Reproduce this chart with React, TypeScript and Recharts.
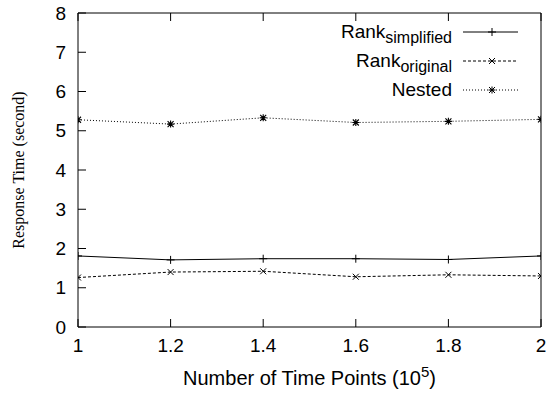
import React from 'react';
import { LineChart, Line, XAxis, YAxis, Label } from 'recharts';

const timePoints = [1, 1.2, 1.4, 1.6, 1.8, 2];
const rankSimplified = [1.81, 1.71, 1.74, 1.74, 1.72, 1.81];
const rankOriginal = [1.26, 1.4, 1.42, 1.28, 1.33, 1.3];
const nested = [5.28, 5.17, 5.33, 5.21, 5.24, 5.29];
const xTicks = [1, 1.2, 1.4, 1.6, 1.8, 2];
const yTicks = [0, 1, 2, 3, 4, 5, 6, 7, 8];

const data = timePoints.map((t, i) => ({
  t,
  simplified: rankSimplified[i],
  original: rankOriginal[i],
  nested: nested[i],
}));

const SANS = 'Liberation Sans, Arial, Helvetica, sans-serif';
const SERIF = 'Liberation Serif, Times New Roman, serif';

const plusPath = (cx: number, cy: number, r: number) =>
  `M${cx - r},${cy}H${cx + r}M${cx},${cy - r}V${cy + r}`;
const crossPath = (cx: number, cy: number, r: number) =>
  `M${cx - r},${cy - r}L${cx + r},${cy + r}M${cx - r},${cy + r}L${cx + r},${cy - r}`;

const PlusDot = (p: any) =>
  p.cx == null ? null : (
    <path key={p.key ?? `p${p.index}`} d={plusPath(p.cx, p.cy, 4)} stroke="#000" strokeWidth={1} fill="none" />
  );
const CrossDot = (p: any) =>
  p.cx == null ? null : (
    <path key={p.key ?? `c${p.index}`} d={crossPath(p.cx, p.cy, 3)} stroke="#000" strokeWidth={1} fill="none" />
  );
const StarDot = (p: any) =>
  p.cx == null ? null : (
    <path
      key={p.key ?? `s${p.index}`}
      d={plusPath(p.cx, p.cy, 3.5) + crossPath(p.cx, p.cy, 3)}
      stroke="#000"
      strokeWidth={1.1}
      fill="none"
    />
  );

const YTitle = (props: any) => {
  const vb = props.viewBox || {};
  const cy = vb.y + vb.height / 2;
  const x = 18;
  return (
    <text
      x={x}
      y={cy}
      transform={`rotate(-90, ${x}, ${cy})`}
      textAnchor="middle"
      dominantBaseline="central"
      fontFamily={SERIF}
      fontSize={16}
      fill="#000"
    >
      Response Time (second)
    </text>
  );
};

const XTitle = (props: any) => {
  const vb = props.viewBox || {};
  const cx = vb.x + vb.width / 2;
  return (
    <text x={cx} y={385} textAnchor="middle" fontFamily={SANS} fontSize={20} fill="#000">
      Number of Time Points (10
      <tspan dy={-8} fontSize={15}>5</tspan>
      <tspan dy={8}>)</tspan>
    </text>
  );
};

const legendItems = [
  { main: 'Rank', sub: 'simplified', dash: undefined as string | undefined, dot: 'plus' },
  { main: 'Rank', sub: 'original', dash: '3 2', dot: 'cross' },
  { main: 'Nested', sub: '', dash: '1 2', dot: 'star' },
];

const LegendOverlay = () => (
  <svg
    width={550}
    height={394}
    style={{ position: 'absolute', left: 0, top: 0, pointerEvents: 'none' }}
  >
    {legendItems.map((it, i) => {
      const ly = 32 + i * 29;
      const mx = 492;
      let marker = '';
      if (it.dot === 'plus') marker = plusPath(mx, ly, 4);
      else if (it.dot === 'cross') marker = crossPath(mx, ly, 3);
      else marker = plusPath(mx, ly, 3.5) + crossPath(mx, ly, 3);
      return (
        <g key={i}>
          <text x={452} y={ly + 6} textAnchor="end" fontFamily={SANS} fontSize={19} fill="#000">
            {it.main}
            {it.sub ? (
              <tspan dy={5} fontSize={16}>
                {it.sub}
              </tspan>
            ) : null}
          </text>
          <line x1={463} x2={518} y1={ly} y2={ly} stroke="#000" strokeWidth={1} strokeDasharray={it.dash} />
          <path d={marker} stroke="#000" strokeWidth={1} fill="none" />
        </g>
      );
    })}
  </svg>
);

export default function App() {
  return (
    <div style={{ position: 'absolute', left: 0, top: 0, width: 550, height: 394, background: '#fff' }}>
      <LineChart
        width={550}
        height={394}
        data={data}
        margin={{ top: 12, right: 8, bottom: 37, left: 38 }}
      >
        <XAxis
          xAxisId="b"
          dataKey="t"
          type="number"
          domain={[1, 2]}
          ticks={xTicks}
          height={30}
          tickSize={-8}
          tickMargin={20}
          stroke="#000"
          tick={{ fill: '#000', fontFamily: SANS, fontSize: 19 }}
          interval={0}
          allowDataOverflow
        >
          <Label content={<XTitle />} />
        </XAxis>
        <XAxis
          xAxisId="t"
          orientation="top"
          dataKey="t"
          type="number"
          domain={[1, 2]}
          ticks={xTicks}
          height={1}
          tickSize={-8}
          tickFormatter={() => ''}
          stroke="#000"
          interval={0}
        />
        <YAxis
          yAxisId="l"
          type="number"
          domain={[0, 8]}
          ticks={yTicks}
          width={40}
          tickSize={-8}
          tickMargin={20}
          stroke="#000"
          tick={{ fill: '#000', fontFamily: SANS, fontSize: 19 }}
          interval={0}
        >
          <Label content={<YTitle />} />
        </YAxis>
        <YAxis
          yAxisId="r"
          orientation="right"
          type="number"
          domain={[0, 8]}
          ticks={yTicks}
          width={1}
          tickSize={-8}
          tickFormatter={() => ''}
          stroke="#000"
          interval={0}
        />
        <Line
          xAxisId="b"
          yAxisId="l"
          dataKey="simplified"
          type="linear"
          stroke="#000"
          strokeWidth={1}
          dot={PlusDot}
          activeDot={false}
          isAnimationActive={false}
        />
        <Line
          xAxisId="b"
          yAxisId="l"
          dataKey="original"
          type="linear"
          stroke="#000"
          strokeWidth={1}
          strokeDasharray="3 2"
          dot={CrossDot}
          activeDot={false}
          isAnimationActive={false}
        />
        <Line
          xAxisId="b"
          yAxisId="l"
          dataKey="nested"
          type="linear"
          stroke="#000"
          strokeWidth={1}
          strokeDasharray="1 2"
          dot={StarDot}
          activeDot={false}
          isAnimationActive={false}
        />
      </LineChart>
      <LegendOverlay />
    </div>
  );
}
